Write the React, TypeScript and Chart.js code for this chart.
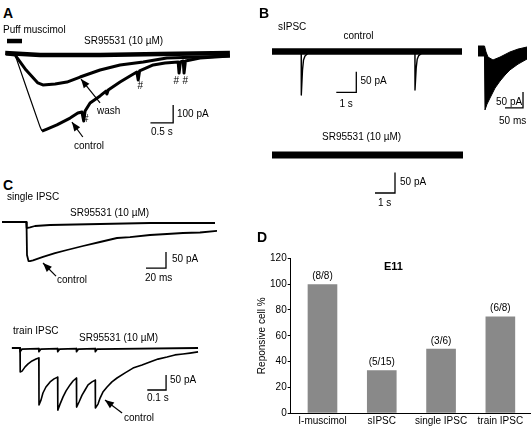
import React, { useEffect, useRef } from "react";
import { Chart, registerables } from "chart.js";

Chart.register(...registerables);

type Pt = [number, number];

// ---------------- DATA (physical units) ----------------
// Panel A: time (s) vs current (pA)
const A_SR: Pt[] = [[-0.04, 6], [0.73, -6], [2.05, -6], [3.37, 0], [4.91, 6]];
const A_WASH: Pt[] = [
  [-0.02, 0], [0.18, -6], [0.42, -89], [0.68, -161], [0.79, -172], [1.06, -167],
  [1.32, -156], [1.61, -128], [2.05, -89], [2.49, -61], [3.0, -44], [3.52, -22],
  [4.25, -17], [4.91, -11],
];
const A_CONTROL_ONSET: Pt[] = [[-0.02, 0], [0.18, -6], [0.46, -211], [0.73, -406], [0.77, -428]];
const A_CONTROL: Pt[] = [
  [0.77, -428], [0.88, -417], [1.1, -394], [1.39, -356], [1.56, -328], [1.65, -322],
  [1.69, -372], [1.72, -317], [1.83, -272], [2.05, -233], [2.18, -206], [2.2, -222],
  [2.23, -200], [2.49, -156], [2.71, -122], [2.86, -100], [2.89, -144], [2.92, -94],
  [3.22, -61], [3.48, -50], [3.77, -44], [3.79, -106], [3.82, -44], [3.88, -39],
  [3.9, -106], [3.93, -39], [4.25, -22], [4.58, -17], [4.91, -11],
];
const A_PUFF: Pt[] = [[0, 72], [0.33, 72]];
const A_SCALE = { t: 3.66, i: -383, dt: 0.5, di: 100 };
const A_ARROWS: Pt[][] = [
  [[2.05, -272], [1.63, -139]],
  [[1.67, -461], [1.43, -378]],
];

// Panel B: sIPSC, time (s) vs current (pA)
const B_CONTROL_BASE: Pt[] = [[0, 0], [9.5, 0]];
const B_EVENT_1: Pt[] = [[1.46, 0], [1.465, -106], [1.525, -45], [1.575, -21], [1.65, -11], [1.8, -4], [2.0, 0]];
const B_EVENT_2: Pt[] = [[7.145, 0], [7.15, -94], [7.21, -40], [7.26, -19], [7.335, -10], [7.485, -4], [7.7, 0]];
const B_SCALE_1 = { t: 4.215, i: -99.5, dt: 1, di: 50 };
const B_SR: Pt[] = [[0, 0], [9.55, 0]];
const B_SCALE_2 = { t: 6.15, i: -92.7, dt: 1, di: 50 };
// Inset: overlaid events, time (ms) vs current (pA), envelope of the traces
const B_INSET_UPPER: Pt[] = [
  [-19.4, 15.6], [-1.4, 15.6], [2.8, -3], [8.3, -19], [22.2, -28], [41.7, -19],
  [69.4, -3], [91.7, 6], [116.7, 12.5],
];
const B_INSET_LOWER: Pt[] = [
  [-19.4, -15.6], [-1.4, -15.6], [0, -184], [5.6, -166], [13.9, -147], [27.8, -116],
  [41.7, -94], [55.6, -75], [69.4, -59], [91.7, -41], [116.7, -25],
];
const B_SCALE_3 = { t: 105.6, i: -178, dt: 50, di: 50 };

// Panel C: single IPSC, time (ms) vs current (pA)
const C1_SR: Pt[] = [
  [-24.5, 0], [-0.2, 0], [0.2, -18.8], [3.5, -17], [8.5, -12.5], [23.5, -9.4],
  [73.5, -6.3], [123.5, -3.1], [188.5, -3.1],
];
const C1_CONTROL: Pt[] = [
  [0, 0], [0.5, -103], [2, -122], [3.5, -122], [6.5, -120], [16.5, -109], [28.5, -97],
  [40.5, -87.5], [56.5, -75], [73.5, -62.5], [90.5, -50], [103.5, -47], [123.5, -40.6],
  [140.5, -37.5], [156.5, -34.4], [173.5, -32.8], [190.5, -28],
];
const C1_SCALE = { t: 139.5, i: -144, dt: 20, di: 50 };
const C1_ARROW: Pt[] = [[29.5, -169], [16.5, -128]];

// Panel C: train IPSC, time (s) vs current (pA)
const C2_CONTROL: Pt[] = [
  [-0.043, 0], [0, 0], [0.001, -80], [0.011, -77], [0.027, -63], [0.043, -53], [0.064, -43],
  [0.085, -37], [0.1, -33], [0.101, -190], [0.112, -173], [0.122, -150], [0.138, -130],
  [0.16, -113], [0.181, -103], [0.2, -97], [0.201, -207], [0.213, -187], [0.229, -163],
  [0.245, -143], [0.266, -123], [0.282, -110], [0.3, -100], [0.301, -197], [0.314, -180],
  [0.33, -157], [0.346, -140], [0.362, -123], [0.383, -113], [0.4, -107], [0.401, -200],
  [0.415, -187], [0.426, -167], [0.441, -147], [0.463, -130], [0.489, -113], [0.516, -100],
  [0.559, -83], [0.601, -67], [0.649, -57], [0.691, -47], [0.734, -37], [0.782, -30],
  [0.824, -23], [0.867, -20], [0.904, -17], [0.947, -13],
];
const C2_SR: Pt[] = [
  [-0.043, 0], [0, 0], [0.001, -12], [0.01, -4], [0.1, -2], [0.101, -12], [0.11, -4],
  [0.2, -2], [0.201, -12], [0.21, -4], [0.3, -2], [0.301, -12], [0.31, -4], [0.4, -2],
  [0.401, -12], [0.41, -4], [0.947, 0],
];
const C2_SCALE = { t: 0.777, i: -140, dt: 0.1, di: 50 };
const C2_ARROW: Pt[] = [[0.543, -217], [0.452, -173]];

// Panel D: bar chart
const D_CATEGORIES = ["I-muscimol", "sIPSC", "single IPSC", "train IPSC"];
const D_PERCENT = [100, 33.3, 50, 75];
const D_COUNTS = ["(8/8)", "(5/15)", "(3/6)", "(6/8)"];
const D_Y_TICKS = [0, 20, 40, 60, 80, 100, 120];

// ---------------- STYLE / LAYOUT ----------------
const FONT = '"Liberation Sans", Arial, Helvetica, sans-serif';
Chart.defaults.font.family = FONT;
Chart.defaults.font.size = 10;
Chart.defaults.color = "#000";

type Box = { left: number; top: number; width: number; height: number };
type MapSpec = { x0: number; y0: number; sx: number; sy: number };
type Trace = { data: Pt[]; width: number; fillPrev?: boolean; arrow?: boolean; miter?: boolean };

const toXY = (d: Pt[]) => d.map(([x, y]) => ({ x, y }));
const scaleBar = (s: { t: number; i: number; dt: number; di: number }): Pt[] => [
  [s.t - s.dt, s.i],
  [s.t, s.i],
  [s.t, s.i + s.di],
];

const arrowPlugin = {
  id: "arrowHeads",
  afterDatasetsDraw(chart: any) {
    const ctx = chart.ctx;
    chart.data.datasets.forEach((ds: any, di: number) => {
      if (!ds.arrowHead) return;
      const pts = chart.getDatasetMeta(di).data;
      const a = pts[pts.length - 2];
      const b = pts[pts.length - 1];
      const ang = Math.atan2(b.y - a.y, b.x - a.x);
      const L = 9;
      const W = 3.6;
      const c = Math.cos(ang);
      const s = Math.sin(ang);
      ctx.save();
      ctx.fillStyle = "#000";
      ctx.beginPath();
      ctx.moveTo(b.x, b.y);
      ctx.lineTo(b.x - L * c + W * s, b.y - L * s - W * c);
      ctx.lineTo(b.x - L * c - W * s, b.y - L * s + W * c);
      ctx.closePath();
      ctx.fill();
      ctx.restore();
    });
  },
};

function traceConfig(box: Box, m: MapSpec, traces: Trace[]): any {
  const xMin = (box.left - m.x0) / m.sx;
  const xMax = (box.left + box.width - m.x0) / m.sx;
  const yMax = (m.y0 - box.top) / m.sy;
  const yMin = (m.y0 - box.top - box.height) / m.sy;
  return {
    type: "line",
    data: {
      datasets: traces.map((t) => ({
        data: toXY(t.data),
        borderColor: "#000",
        backgroundColor: "#000",
        borderWidth: t.width,
        pointRadius: 0,
        tension: 0,
        fill: t.fillPrev ? "-1" : false,
        clip: false,
        arrowHead: !!t.arrow,
        borderJoinStyle: t.miter ? "miter" : "round",
      })),
    },
    options: {
      responsive: false,
      animation: false,
      maintainAspectRatio: false,
      events: [],
      layout: { padding: 0 },
      scales: {
        x: { type: "linear", display: false, min: xMin, max: xMax },
        y: { type: "linear", display: false, min: yMin, max: yMax },
      },
      plugins: { legend: { display: false }, tooltip: { enabled: false } },
    },
    plugins: [arrowPlugin],
  };
}

const barLabelPlugin = {
  id: "barLabels",
  afterDatasetsDraw(chart: any) {
    const ctx = chart.ctx;
    const meta = chart.getDatasetMeta(0);
    ctx.save();
    ctx.font = `10px ${FONT}`;
    ctx.fillStyle = "#000";
    ctx.textAlign = "center";
    ctx.textBaseline = "alphabetic";
    meta.data.forEach((el: any, i: number) => ctx.fillText(D_COUNTS[i], el.x, el.y - 5));
    ctx.restore();
  },
};

function barConfig(): any {
  return {
    type: "bar",
    data: {
      datasets: [
        {
          data: D_PERCENT.map((v, i) => ({ x: i, y: v })),
          backgroundColor: "#898989",
          borderWidth: 0,
          categoryPercentage: 1,
          barPercentage: 0.5,
        },
      ],
    },
    options: {
      responsive: false,
      animation: false,
      maintainAspectRatio: false,
      events: [],
      layout: { padding: { top: 18.3, right: 2, left: 0, bottom: 0 } },
      scales: {
        x: {
          type: "linear",
          offset: false,
          min: -0.536,
          max: 3.5,
          afterBuildTicks: (s: any) => {
            s.ticks = D_CATEGORIES.map((_, i) => ({ value: i }));
          },
          afterFit: (s: any) => {
            s.height = 14.7;
          },
          ticks: {
            autoSkip: false,
            maxRotation: 0,
            padding: 2,
            font: { size: 10 },
            color: "#000",
            callback: (v: number) => D_CATEGORIES[v] ?? "",
          },
          grid: { display: false, drawTicks: false },
          border: { display: true, color: "#000", width: 1 },
        },
        y: {
          type: "linear",
          min: D_Y_TICKS[0],
          max: D_Y_TICKS[D_Y_TICKS.length - 1],
          afterBuildTicks: (s: any) => {
            s.ticks = D_Y_TICKS.map((v) => ({ value: v }));
          },
          afterFit: (s: any) => {
            s.width = 35.7;
          },
          ticks: { padding: 1, font: { size: 10 }, color: "#000" },
          grid: { drawOnChartArea: false, drawTicks: true, tickLength: 3, color: "#000", lineWidth: 1 },
          border: { display: true, color: "#000", width: 1 },
          title: {
            display: true,
            text: "Reponsive cell %",
            font: { size: 10 },
            color: "#000",
            padding: { top: 1.5, bottom: 0 },
          },
        },
      },
      plugins: { legend: { display: false }, tooltip: { enabled: false } },
    },
    plugins: [barLabelPlugin],
  };
}

function ChartCanvas({ box, config }: { box: Box; config: () => any }) {
  const ref = useRef<HTMLCanvasElement | null>(null);
  useEffect(() => {
    if (!ref.current) return;
    const chart = new Chart(ref.current, config());
    return () => chart.destroy();
  }, []);
  return (
    <canvas
      ref={ref}
      width={box.width}
      height={box.height}
      style={{ position: "absolute", left: box.left, top: box.top, width: box.width, height: box.height }}
    />
  );
}

type Label = { text: string; left: number; top: number; size?: number; bold?: boolean };
const LABELS: Label[] = [
  { text: "A", left: 3, top: 6, size: 14, bold: true },
  { text: "Puff muscimol", left: 3, top: 24.7 },
  { text: "SR95531 (10 µM)", left: 84, top: 36 },
  { text: "wash", left: 97, top: 105.7 },
  { text: "control", left: 74, top: 141 },
  { text: "100 pA", left: 177, top: 108.5 },
  { text: "0.5 s", left: 151, top: 126.5 },
  { text: "#", left: 83, top: 113.7 },
  { text: "#", left: 137.5, top: 80.7 },
  { text: "#", left: 173.5, top: 75.7 },
  { text: "#", left: 182.5, top: 75.7 },
  { text: "B", left: 259, top: 6, size: 14, bold: true },
  { text: "sIPSC", left: 278, top: 22 },
  { text: "control", left: 343.5, top: 30.7 },
  { text: "50 pA", left: 360.5, top: 76.4 },
  { text: "1 s", left: 339.5, top: 98.7 },
  { text: "50 pA", left: 496, top: 97 },
  { text: "50 ms", left: 499, top: 115.5 },
  { text: "SR95531 (10 µM)", left: 322, top: 131.7 },
  { text: "50 pA", left: 400, top: 177 },
  { text: "1 s", left: 378, top: 197.5 },
  { text: "C", left: 3, top: 178, size: 14, bold: true },
  { text: "single IPSC", left: 7, top: 191.7 },
  { text: "SR95531 (10 µM)", left: 70, top: 207.7 },
  { text: "50 pA", left: 172, top: 254 },
  { text: "20 ms", left: 145, top: 273 },
  { text: "control", left: 57, top: 275 },
  { text: "train IPSC", left: 13, top: 325.7 },
  { text: "SR95531 (10 µM)", left: 79, top: 332.7 },
  { text: "50 pA", left: 170, top: 374.7 },
  { text: "0.1 s", left: 147, top: 392.7 },
  { text: "control", left: 124, top: 412.7 },
  { text: "D", left: 257, top: 230.2, size: 14, bold: true },
  { text: "E11", left: 384, top: 260.6, size: 11, bold: true },
];

const BOX_A: Box = { left: 0, top: 30, width: 240, height: 125 };
const MAP_A: MapSpec = { x0: 7, y0: 54, sx: 45.4, sy: 0.18 };
const BOX_B1: Box = { left: 266, top: 38, width: 202, height: 64 };
const MAP_B1: MapSpec = { x0: 272, y0: 51.5, sx: 20, sy: 0.41 };
const BOX_B2: Box = { left: 266, top: 140, width: 202, height: 60 };
const MAP_B2: MapSpec = { x0: 272, y0: 155, sx: 20, sy: 0.41 };
const BOX_B3: Box = { left: 472, top: 38, width: 60, height: 76 };
const MAP_B3: MapSpec = { x0: 485, y0: 51, sx: 0.36, sy: 0.32 };
const BOX_C1: Box = { left: 0, top: 205, width: 225, height: 75 };
const MAP_C1: MapSpec = { x0: 26.5, y0: 222, sx: 1, sy: 0.32 };
const BOX_C2: Box = { left: 0, top: 340, width: 210, height: 85 };
const MAP_C2: MapSpec = { x0: 20, y0: 348, sx: 188, sy: 0.3 };
const BOX_D: Box = { left: 255, top: 240, width: 277, height: 188 };

export default function App() {
  return (
    <div style={{ position: "absolute", left: 0, top: 0, width: 532, height: 428, background: "#fff", overflow: "hidden" }}>
      <ChartCanvas
        box={BOX_A}
        config={() =>
          traceConfig(BOX_A, MAP_A, [
            { data: A_SR, width: 4.5 },
            { data: A_WASH, width: 3 },
            { data: A_CONTROL_ONSET, width: 1.2 },
            { data: A_CONTROL, width: 3 },
            { data: A_PUFF, width: 4.5 },
            { data: scaleBar(A_SCALE), width: 1.3, miter: true },
            { data: A_ARROWS[0], width: 1.2, arrow: true },
            { data: A_ARROWS[1], width: 1.2, arrow: true },
          ])
        }
      />
      <ChartCanvas
        box={BOX_B1}
        config={() =>
          traceConfig(BOX_B1, MAP_B1, [
            { data: B_CONTROL_BASE, width: 6.5 },
            { data: B_EVENT_1, width: 1.4 },
            { data: B_EVENT_2, width: 1.4 },
            { data: scaleBar(B_SCALE_1), width: 1.3, miter: true },
          ])
        }
      />
      <ChartCanvas
        box={BOX_B2}
        config={() =>
          traceConfig(BOX_B2, MAP_B2, [
            { data: B_SR, width: 7 },
            { data: scaleBar(B_SCALE_2), width: 1.3, miter: true },
          ])
        }
      />
      <ChartCanvas
        box={BOX_B3}
        config={() =>
          traceConfig(BOX_B3, MAP_B3, [
            { data: B_INSET_UPPER, width: 1 },
            { data: B_INSET_LOWER, width: 1, fillPrev: true },
            { data: scaleBar(B_SCALE_3), width: 1.3, miter: true },
          ])
        }
      />
      <ChartCanvas
        box={BOX_C1}
        config={() =>
          traceConfig(BOX_C1, MAP_C1, [
            { data: C1_SR, width: 1.8 },
            { data: C1_CONTROL, width: 1.8 },
            { data: scaleBar(C1_SCALE), width: 1.3, miter: true },
            { data: C1_ARROW, width: 1.2, arrow: true },
          ])
        }
      />
      <ChartCanvas
        box={BOX_C2}
        config={() =>
          traceConfig(BOX_C2, MAP_C2, [
            { data: C2_SR, width: 1.8 },
            { data: C2_CONTROL, width: 1.6 },
            { data: scaleBar(C2_SCALE), width: 1.3, miter: true },
            { data: C2_ARROW, width: 1.2, arrow: true },
          ])
        }
      />
      <ChartCanvas box={BOX_D} config={barConfig} />
      {LABELS.map((l, i) => (
        <div
          key={i}
          style={{
            position: "absolute",
            left: l.left,
            top: l.top,
            fontFamily: FONT,
            fontSize: l.size ?? 10,
            lineHeight: `${l.size ?? 10}px`,
            fontWeight: l.bold ? 700 : 400,
            whiteSpace: "nowrap",
            color: "#000",
          }}
        >
          {l.text}
        </div>
      ))}
    </div>
  );
}
